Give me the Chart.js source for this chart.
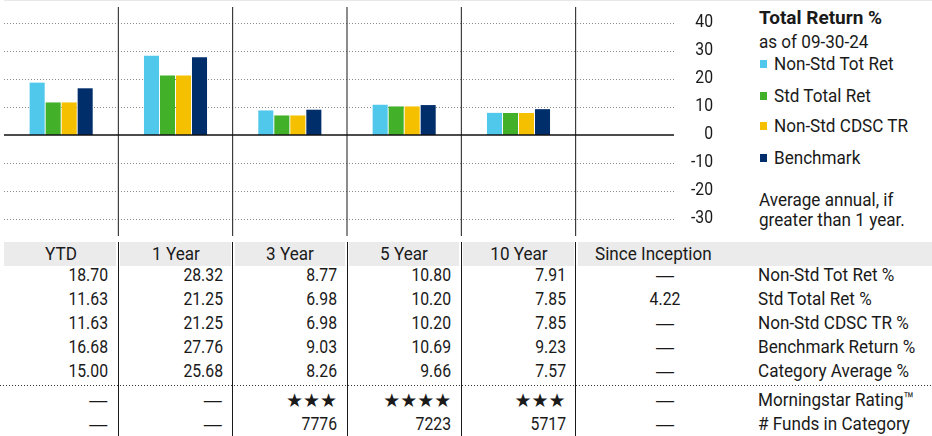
<!DOCTYPE html>
<html>
<head>
<meta charset="utf-8">
<script src="https://cdn.jsdelivr.net/npm/chart.js@4.4.0/dist/chart.umd.min.js"></script>
<style>
  html, body { margin: 0; padding: 0; background: #fff; }
  #page { position: relative; width: 932px; height: 436px; overflow: hidden;
    font-family: Roboto, "Liberation Sans", sans-serif; font-size: 19px; color: #1a1a1a; }
  #chart { position: absolute; left: 0; top: 0; }
  .t { position: absolute; height: 24px; line-height: 24px; white-space: nowrap; }
  .r { text-align: right; transform-origin: right center; }
  .c { text-align: center; transform-origin: center center; }
  .l { text-align: left; transform-origin: left center; }
  /* the source face is a condensed grotesque, squeeze Roboto to match */
  .tx { transform: scaleX(0.9); }
  .nx { transform: scaleX(0.83); }
  .sym { font-family: "DejaVu Sans", sans-serif; }
  .dash { font-family: "DejaVu Sans", sans-serif; font-size: 20px; }
  .box { position: absolute; }
</style>
</head>
<body>
<div id="page">
  <div class="box" style="left:4px;top:0;right:0;height:1px;background:#e8e8e8"></div>
  <canvas id="chart" width="720" height="240"></canvas>
</div>
<script>
const periods = ['YTD', '1 Year', '3 Year', '5 Year', '10 Year', 'Since Inception'];
const nonStdTotRet = [18.70, 28.32, 8.77, 10.80, 7.91, null];
const stdTotalRet = [11.63, 21.25, 6.98, 10.20, 7.85, 4.22];
const nonStdCdscTr = [11.63, 21.25, 6.98, 10.20, 7.85, null];
const benchmarkRet = [16.68, 27.76, 9.03, 10.69, 9.23, null];
const categoryAvg = [15.00, 25.68, 8.26, 9.66, 7.57, null];
const ratings = [null, null, 3, 4, 3, null];
const fundsInCategory = [null, null, 7776, 7223, 5717, null];
const yTicks = [40, 30, 20, 10, 0, -10, -20, -30];

const page = document.getElementById('page');

// only the trailing period columns are charted, since inception is table-only
const charted = arr => arr.slice(0, 5);

const sheetGrid = {
  id: 'sheetGrid',
  beforeDatasetsDraw(chart) {
    const { ctx, chartArea: a, scales: { x, y } } = chart;
    const gridRight = a.right - 16;
    ctx.save();
    ctx.lineWidth = 1;
    ctx.strokeStyle = '#8a8a8a';
    ctx.setLineDash([1, 2]);
    y.ticks.forEach(t => {
      if (t.value === 0) return;
      const py = Math.round(y.getPixelForValue(t.value)) + 0.5;
      ctx.beginPath(); ctx.moveTo(a.left, py); ctx.lineTo(gridRight, py); ctx.stroke();
    });
    ctx.setLineDash([]);
    ctx.strokeStyle = '#1a1a1a';
    for (let i = 0; i < periods.length - 1; i++) {
      const px = (x.getPixelForValue(i) + x.getPixelForValue(i + 1)) / 2;
      ctx.beginPath(); ctx.moveTo(px, a.top - 2); ctx.lineTo(px, a.bottom + 3); ctx.stroke();
    }
    ctx.restore();
  },
  afterDatasetsDraw(chart) {
    const { ctx, chartArea: a, scales: { y } } = chart;
    const py = y.getPixelForValue(0);
    ctx.save();
    ctx.strokeStyle = '#111';
    ctx.lineWidth = 1.5;
    ctx.beginPath(); ctx.moveTo(a.left, py); ctx.lineTo(a.right - 16, py); ctx.stroke();
    ctx.restore();
  }
};

const chart = new Chart(document.getElementById('chart'), {
  type: 'bar',
  data: {
    labels: periods,
    datasets: [
      { label: 'Non-Std Tot Ret', data: charted(nonStdTotRet), backgroundColor: '#4fc8ec' },
      { label: 'Std Total Ret', data: charted(stdTotalRet), backgroundColor: '#43b02a' },
      { label: 'Non-Std CDSC TR', data: charted(nonStdCdscTr), backgroundColor: '#f5c000' },
      { label: 'Benchmark', data: charted(benchmarkRet), backgroundColor: '#002e6b' }
    ]
  },
  options: {
    responsive: false,
    animation: false,
    layout: { padding: { left: 4, top: 9, right: 0, bottom: 7 } },
    plugins: { legend: { display: false }, tooltip: { enabled: false } },
    datasets: { bar: { categoryPercentage: 0.56, barPercentage: 0.94 } },
    scales: {
      x: { display: false },
      y: {
        position: 'right',
        min: -35,
        max: 45,
        afterBuildTicks: s => { s.ticks = yTicks.map(v => ({ value: v })); },
        afterFit: s => { s.width = 30; },
        grid: { display: false, drawTicks: false },
        border: { display: false },
        ticks: { display: false }
      }
    }
  },
  plugins: [sheetGrid]
});

function put(html, cls, style) {
  const d = document.createElement('div');
  d.className = cls;
  d.innerHTML = html;
  Object.assign(d.style, style);
  page.appendChild(d);
  return d;
}
const rowTop = cy => (cy - 12) + 'px';

// y tick labels, placed with the chart's own value scale
const ys = chart.scales.y;
ys.ticks.forEach(t => {
  put(String(t.value), 't r nx', { left: (713 - 60) + 'px', width: '60px', top: rowTop(ys.getPixelForValue(t.value) - 2) });
});

// legend
const legX = 759;
put('<b>Total Return %</b>', 't l', { left: legX + 'px', top: rowTop(17.5) });
put('as of 09-30-24', 't l tx', { left: legX + 'px', top: rowTop(41.5) });
const legY = [64, 95.5, 126, 157.5];
chart.data.datasets.forEach((ds, i) => {
  put('', 'box', { left: '760px', top: (legY[i] - 4) + 'px', width: '7px', height: '8px', background: ds.backgroundColor });
  put(ds.label, 't l tx', { left: '774px', top: rowTop(legY[i]) });
});
put('Average annual, if', 't l tx', { left: legX + 'px', top: rowTop(200) });
put('greater than 1 year.', 't l tx', { left: legX + 'px', top: rowTop(220) });

// table, columns taken from the chart's category scale
const xs = chart.scales.x;
const seps = [];
for (let i = 0; i < periods.length - 1; i++) seps.push((xs.getPixelForValue(i) + xs.getPixelForValue(i + 1)) / 2);
const colLeft = [chart.chartArea.left, ...seps];

const headTop = 242, headBottom = 265.5;
periods.forEach((p, i) => {
  const l = i === 0 ? colLeft[0] : colLeft[i] + 2;
  const r = i < seps.length ? seps[i] - 2 : 932;
  put('', 'box', { left: l + 'px', top: headTop + 'px', width: (r - l) + 'px', height: (headBottom - headTop) + 'px', background: '#ebebeb' });
  if (i < seps.length) {
    const cx = (colLeft[i] + seps[i]) / 2;
    put(p, 't c tx', { left: (cx - 60) + 'px', width: '120px', top: rowTop(254) });
  } else {
    put(p, 't l tx', { left: (colLeft[i] + 19) + 'px', top: rowTop(254) });
  }
});

const rows = [
  { label: 'Non-Std Tot Ret %', vals: nonStdTotRet, kind: 'pct' },
  { label: 'Std Total Ret %', vals: stdTotalRet, kind: 'pct' },
  { label: 'Non-Std CDSC TR %', vals: nonStdCdscTr, kind: 'pct' },
  { label: 'Benchmark Return %', vals: benchmarkRet, kind: 'pct' },
  { label: 'Category Average %', vals: categoryAvg, kind: 'pct' },
  { label: 'Morningstar Rating\u2122', vals: ratings, kind: 'stars' },
  { label: '# Funds in Category', vals: fundsInCategory, kind: 'count' }
];
const rowY = [275, 298.8, 322.7, 346.7, 370.5, 400, 423.8];
const siCenter = 665;

rows.forEach((row, ri) => {
  const top = rowTop(rowY[ri]);
  row.vals.forEach((v, i) => {
    let txt, cls;
    if (v == null) { txt = '\u2014'; cls = 'dash'; }
    else if (row.kind === 'stars') { txt = '\u2605'.repeat(v); cls = 'sym'; }
    else { txt = row.kind === 'pct' ? v.toFixed(2) : String(v); cls = 'nx'; }
    if (i < seps.length) {
      put(txt, 't r ' + cls, { left: (seps[i] - 10 - 100) + 'px', width: '100px', top });
    } else {
      put(txt, 't c ' + cls, { left: (siCenter - 50) + 'px', width: '100px', top });
    }
  });
  put(row.label, 't l tx', { left: '758px', top });
});

// dotted rule between returns and ratings
put('', 'box', { left: '0', top: '385px', width: '932px', height: '1px',
  background: 'repeating-linear-gradient(to right, #333 0 1px, transparent 1px 3px)' });

// column rules through the table
seps.forEach(s => {
  put('', 'box', { left: (s - 0.5) + 'px', top: headTop + 'px', width: '1px', height: (436 - headTop) + 'px', background: '#1a1a1a' });
});
</script>
</body>
</html>
